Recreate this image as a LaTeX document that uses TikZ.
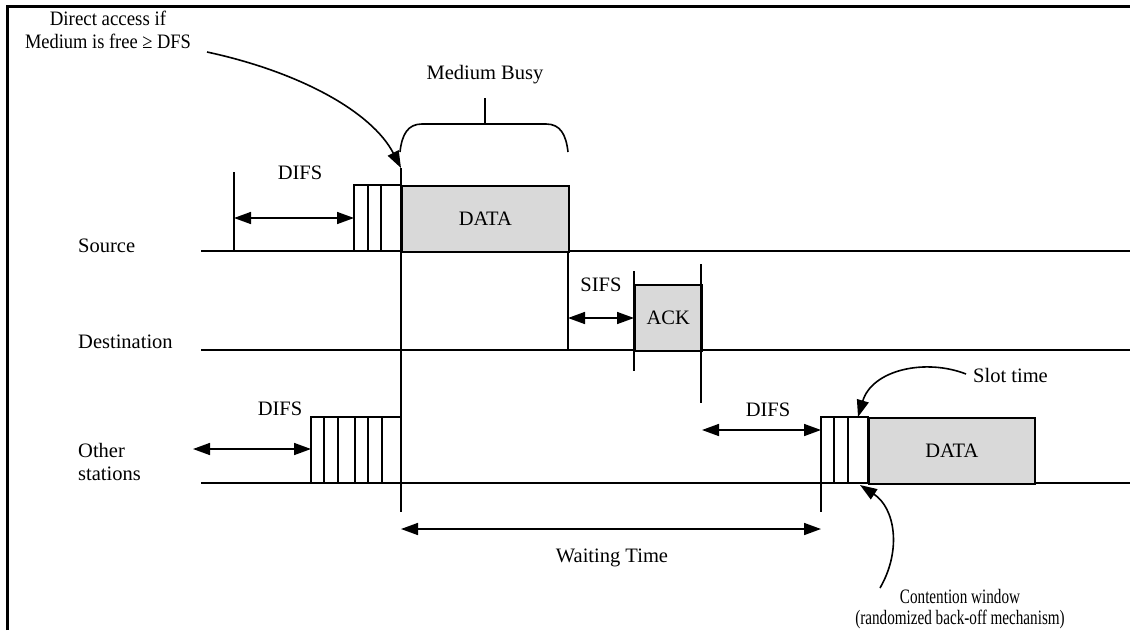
\documentclass[tikz,border=0pt]{standalone}
\usepackage{fontspec}
\setmainfont{Liberation Serif}
\usetikzlibrary{arrows.meta}
\definecolor{boxgray}{HTML}{D9D9D9}
\newcommand{\narrowtext}[2]{\scalebox{#1}[1]{#2}}
\begin{document}
\begin{tikzpicture}[x=1pt,y=-1pt,
  ln/.style={line width=1.6pt},
  dbl/.style={line width=1.6pt,{Triangle[length=17pt,width=12pt]}-{Triangle[length=17pt,width=12pt]}},
  pt/.style={line width=1.6pt,-{Triangle[length=17pt,width=12pt]}},
  lbl/.style={font=\fontsize{20.5}{23}\selectfont, inner sep=0pt},
  framebox/.style={draw, line width=1.6pt, fill=boxgray, inner sep=0pt, anchor=north west, font=\fontsize{20.5}{23}\selectfont}]
\useasboundingbox (0,0) rectangle (1130,630);
% frame
\draw[line width=3pt] (7,630) -- (7,6) -- (1130,6);

% station labels
\node[lbl, anchor=west] (src) at (78,246) {Source};
\node[lbl, anchor=west] (dst) at (78,342) {Destination};
\node[lbl, anchor=west, align=left] (oth) at (78,462) {Other\\stations};

% time lines
\coordinate (s0) at (201,251); \coordinate (s1) at (1130,251);
\coordinate (d0) at (201,350); \coordinate (d1) at (1130,350);
\coordinate (o0) at (201,483); \coordinate (o1) at (1130,483);
\draw[ln] (s0) -- (s1);
\draw[ln] (d0) -- (d1);
\draw[ln] (o0) -- (o1);

% ---- Source ----
\coordinate (difsA) at (234,172);
\coordinate (difsB) at (234,251);
\draw[ln] (difsA) -- (difsB);
\coordinate (sda) at (234,218); \coordinate (sdb) at (354,218);
\draw[dbl] (sda) -- (sdb);
\node[lbl] (difs1) at (300,173) {DIFS};
\draw[ln] (354,185) rectangle (401,251);
\draw[ln] (368,185) -- (368,251);
\draw[ln] (381,185) -- (381,251);
\node[framebox, minimum width=167pt, minimum height=66pt] (data1) at (401,185) {DATA};

% long vertical at 401
\coordinate (vtop) at (401,168);
\coordinate (vbot) at (401,512);
\draw[ln] (vtop) -- (vbot);

% direct access label + curved arrow
\node[lbl, align=center] (direct) at (108,30) {\narrowtext{0.92}{Direct access if}\\\narrowtext{0.9}{Medium is free ≥ DFS}};
\coordinate (dcs) at (207,52);
\draw[pt] (dcs) .. controls (300,72) and (372,112) .. (vtop);

% brace + Medium Busy
\node[lbl] (busy) at (485,75) {Medium Busy};
\draw[ln] (400,152) .. controls (402,134) and (408,124) .. (422,124) -- (546,124) .. controls (560,124) and (566,134) .. (568,152);
\draw[ln] (485,124) -- (485,98);

% ---- Destination ----
\draw[ln] (568,251) -- (568,350);
\coordinate (sifA) at (568,318); \coordinate (sifB) at (634,318);
\draw[dbl] (sifA) -- (sifB);
\node[lbl] (sifs) at (601,285) {SIFS};
\node[framebox, minimum width=67pt, minimum height=66pt] (ack) at (634,284) {ACK};
\draw[ln] (634,271) -- (634,371);
\draw[ln] (701,264) -- (701,403);

% ---- Other stations ----
\coordinate (odA) at (193,449); \coordinate (odB) at (311,449);
\draw[dbl] (odA) -- (odB);
\node[lbl] (difs2) at (280,409) {DIFS};
\draw[ln] (311,417) rectangle (401,483);
\foreach \xx in {324,338,355,368,382} \draw[ln] (\xx,417) -- (\xx,483);

\coordinate (od2A) at (702,430); \coordinate (od2B) at (821,430);
\draw[dbl] (od2A) -- (od2B);
\node[lbl] (difs3) at (768,410) {DIFS};
\draw[ln] (821,417) rectangle (868,483);
\draw[ln] (834,417) -- (834,483);
\draw[ln] (848,417) -- (848,483);
\node[framebox, minimum width=166pt, minimum height=66pt] (data2) at (868,417) {DATA};
\coordinate (v2top) at (821,417);
\coordinate (v2bot) at (821,512);
\draw[ln] (v2top) -- (v2bot);

% waiting time
\coordinate (wA) at (401,529); \coordinate (wB) at (821,529);
\draw[dbl] (wA) -- (wB);
\node[lbl] (wait) at (612,558) {Waiting Time};

% slot time
\node[lbl, anchor=west] (slot) at (973,375) {Slot time};
\coordinate (stS) at (966,374);
\coordinate (stE) at (858,417);
\draw[pt] (stS) .. controls (925,358) and (872,370) .. (stE);

% contention window
\node[lbl, align=center, font=\fontsize{20.5}{20.5}\selectfont] (cw) at (960,609) {\narrowtext{0.74}{Contention window}\\\narrowtext{0.74}{(randomized back-off mechanism)}};
\coordinate (cwS) at (880,588);
\coordinate (cwE) at (860,485);
\draw[pt] (cwS) .. controls (902,550) and (895,508) .. (cwE);
\end{tikzpicture}
\end{document}
